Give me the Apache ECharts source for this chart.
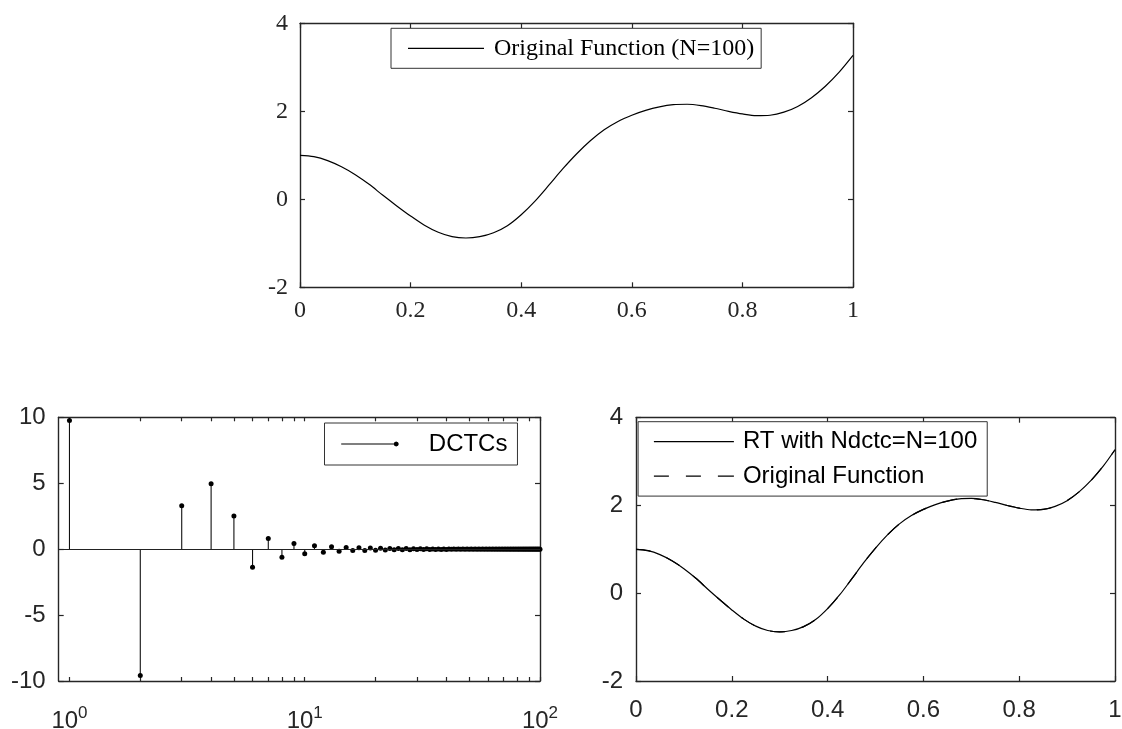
<!DOCTYPE html>
<html><head><meta charset="utf-8">
<script src="https://cdn.jsdelivr.net/npm/echarts@6/dist/echarts.min.js"></script>
<style>html,body{margin:0;padding:0;background:#fff}#c{width:1122px;height:729px}</style>
</head><body><div id="c"></div><script>
// ---- data ----
const fnX = [0,0.025,0.05,0.075,0.1,0.125,0.15,0.175,0.2,0.225,0.25,0.275,0.3,0.325,0.35,0.375,0.4,0.425,0.45,0.475,0.5,
             0.525,0.55,0.575,0.6,0.625,0.65,0.675,0.7,0.725,0.75,0.775,0.8,0.825,0.85,0.875,0.9,0.925,0.95,0.975,1];
const fnY = [1.00,0.97,0.88,0.74,0.56,0.34,0.09,-0.15,-0.38,-0.59,-0.75,-0.85,-0.88,-0.85,-0.76,-0.60,-0.35,-0.04,0.32,0.69,1.03,
             1.33,1.58,1.77,1.91,2.02,2.10,2.15,2.16,2.13,2.07,2.00,1.94,1.90,1.91,1.98,2.11,2.31,2.57,2.89,3.27];
const rtY = [1.00,0.97,0.88,0.74,0.56,0.34,0.09,-0.15,-0.38,-0.59,-0.75,-0.85,-0.88,-0.85,-0.76,-0.60,-0.35,-0.04,0.32,0.69,1.03,
             1.33,1.58,1.77,1.91,2.02,2.10,2.15,2.16,2.13,2.07,2.00,1.94,1.90,1.91,1.98,2.11,2.31,2.57,2.89,3.27];
const dctValues = [9.75,-9.59,3.29,4.96,2.51,-1.37,0.81,-0.62,0.43,-0.35,
                   0.25,-0.23,0.18,-0.16,0.13,-0.11,0.10,-0.10,0.08,-0.08,
                   0.07,-0.06,0.05,-0.05,0.05,-0.04,0.04,-0.04,0.03,-0.03,
                   0.03,-0.03,0.03,-0.02,0.02,-0.02,0.02,-0.02,0.02,-0.02,
                   0.02,-0.01,0.01,-0.01,0.01,-0.01,0.01,-0.01,0.01,-0.01,
                   0.01,-0.01,0.01,-0.01,0.01,-0.01,0.01,-0.01,0.01,-0.01,
                   0.01,-0.01,0.01,-0.01,0.01,-0.01,0.01,-0.01,0.01,-0.01,
                   0.01,-0.01,0.01,-0.01,0.01,-0.01,0.01,-0.01,0.01,-0.01,
                   0.01,-0.01,0.01,-0.01,0.01,-0.01,0.01,-0.01,0.01,-0.01,
                   0.01,-0.01,0.01,-0.01,0.01,-0.01,0.01,-0.01,0.01,-0.01];
const dctIndex = dctValues.map((v, i) => i + 1);
const logMajorTicks = [1, 10, 100];
const logAllTicks = [1,2,3,4,5,6,7,8,9,10,20,30,40,50,60,70,80,90,100];

const names = {
  top: 'Original Function (N=100)',
  stem: 'DCTCs',
  rt: 'RT with Ndctc=N=100',
  orig: 'Original Function'
};

// ---- styling ----
const AX = '#262626';
const SERIF = '"Liberation Serif","Times New Roman",serif';
const SANS = '"Liberation Sans",Arial,sans-serif';

function xAx(grid, pos, font, extra) {
  return Object.assign({
    gridIndex: grid, position: pos, type: 'value',
    axisLine: {show: true, onZero: false, lineStyle: {color: AX, width: 1.4}},
    axisTick: {show: true, inside: true, length: 5, lineStyle: {color: AX, width: 1.2}},
    axisLabel: {show: pos === 'bottom', color: AX, fontFamily: font, fontSize: 24, margin: 10},
    splitLine: {show: false}
  }, extra);
}
function yAx(grid, pos, font, extra) {
  return Object.assign({
    gridIndex: grid, position: pos, type: 'value',
    axisLine: {show: true, onZero: false, lineStyle: {color: AX, width: 1.4}},
    axisTick: {show: true, inside: true, length: 5, lineStyle: {color: AX, width: 1.2}},
    axisLabel: {show: pos === 'left', color: AX, fontFamily: font, fontSize: 24, margin: 12},
    splitLine: {show: false}
  }, extra);
}

const logLabel = {
  customValues: logMajorTicks,
  formatter: v => '{b|10}{s|' + Math.round(Math.log10(v)) + '}',
  margin: 24,
  rich: {
    b: {fontFamily: SANS, fontSize: 24, color: AX, lineHeight: 28, verticalAlign: 'bottom'},
    s: {fontFamily: SANS, fontSize: 17, color: AX, lineHeight: 17, verticalAlign: 'top'}
  }
};

const solidIcon = (w) => 'path://M0,0H' + w + 'V1.2H0Z';
const dashIcon = 'path://M0,0H15V1.2H0Z M32,0H47V1.2H32Z M64,0H80V1.2H64Z';
const stemIcon = 'path://M0,3.4L55,3.4L55,4.6L0,4.6Z M55,1.4L56.8,2.2L57.6,4L56.8,5.8L55,6.6L53.2,5.8L52.4,4L53.2,2.2Z';

const fnData = fnX.map((x, i) => [x, fnY[i]]);
const rtData = fnX.map((x, i) => [x, rtY[i]]);
const stemData = dctIndex.map((k, i) => [k, dctValues[i]]);

const option = {
  animation: false,
  backgroundColor: '#fff',
  grid: [
    {left: 300, top: 23.3, width: 553, height: 264, containLabel: false, outerBoundsMode: 'none'},
    {left: 58.7, top: 417.3, width: 481.3, height: 263.7, containLabel: false, outerBoundsMode: 'none'},
    {left: 636, top: 417.7, width: 479, height: 263.3, containLabel: false, outerBoundsMode: 'none'}
  ],
  xAxis: [
    xAx(0, 'bottom', SERIF, {min: 0, max: 1, interval: 0.2, axisLabel: {show: true, color: AX, fontFamily: SERIF, fontSize: 24, margin: 11}}),
    xAx(0, 'top', SERIF, {min: 0, max: 1, interval: 0.2}),
    xAx(1, 'bottom', SANS, {type: 'log', logBase: 10, min: 0.9, max: 100,
      axisTick: {show: true, inside: true, length: 4, customValues: logAllTicks, lineStyle: {color: AX, width: 1.2}},
      axisLabel: Object.assign({show: true}, logLabel)}),
    xAx(1, 'top', SANS, {type: 'log', logBase: 10, min: 0.9, max: 100,
      axisTick: {show: true, inside: true, length: 4, customValues: logAllTicks, lineStyle: {color: AX, width: 1.2}},
      axisLabel: {show: false}}),
    xAx(2, 'bottom', SANS, {min: 0, max: 1, interval: 0.2, axisLabel: {show: true, color: AX, fontFamily: SANS, fontSize: 24, margin: 17}}),
    xAx(2, 'top', SANS, {min: 0, max: 1, interval: 0.2})
  ],
  yAxis: [
    yAx(0, 'left', SERIF, {min: -2, max: 4, interval: 2}),
    yAx(0, 'right', SERIF, {min: -2, max: 4, interval: 2}),
    yAx(1, 'left', SANS, {min: -10, max: 10, interval: 5, axisLabel: {show: true, color: AX, fontFamily: SANS, fontSize: 24, margin: 13}}),
    yAx(1, 'right', SANS, {min: -10, max: 10, interval: 5}),
    yAx(2, 'left', SANS, {min: -2, max: 4, interval: 2, axisLabel: {show: true, color: AX, fontFamily: SANS, fontSize: 24, margin: 13}}),
    yAx(2, 'right', SANS, {min: -2, max: 4, interval: 2})
  ],
  legend: [
    {
      data: [{name: names.top, icon: solidIcon(76)}], left: 391, top: 28.3, orient: 'horizontal',
      padding: [8, 7, 8, 17], itemWidth: 76, itemHeight: 1.2, selectedMode: false,
      borderColor: '#333', borderWidth: 1, backgroundColor: '#fff',
      textStyle: {fontFamily: SERIF, fontSize: 24, lineHeight: 24, color: '#000', padding: [0, 0, 0, 5]}
    },
    {
      data: [{name: names.stem, icon: stemIcon}],
      left: 324.5, top: 423, orient: 'horizontal',
      padding: [9, 10, 9, 16.7], itemWidth: 57.6, itemHeight: 5.2, selectedMode: false,
      borderColor: '#333', borderWidth: 1, backgroundColor: '#fff',
      textStyle: {fontFamily: SANS, fontSize: 24, lineHeight: 24, color: '#000', padding: [0, 0, 0, 25]}
    },
    {
      data: [{name: names.rt, icon: solidIcon(80)}, {name: names.orig, icon: dashIcon}],
      left: 638.1, top: 421.7, orient: 'vertical',
      padding: [8, 10, 8, 15.8], itemWidth: 80, itemHeight: 1.2, itemGap: 10.4, selectedMode: false,
      borderColor: '#333', borderWidth: 1, backgroundColor: '#fff',
      textStyle: {fontFamily: SANS, fontSize: 24, lineHeight: 24, color: '#000', padding: [0, 0, 0, 4]}
    }
  ],
  series: [
    {
      name: names.top, type: 'line', xAxisIndex: 0, yAxisIndex: 0,
      data: fnData, smooth: 0.3, symbol: 'none', silent: true,
      lineStyle: {color: '#000', width: 1.2}, itemStyle: {color: '#000'}
    },
    {
      name: names.stem, type: 'custom', xAxisIndex: 2, yAxisIndex: 2,
      data: stemData, silent: true, itemStyle: {color: '#000'},
      renderItem: (params, api) => {
        const x = api.value(0), y = api.value(1);
        const p0 = api.coord([x, 0]);
        const p1 = api.coord([x, y]);
        return {type: 'group', children: [
          {type: 'line', shape: {x1: p0[0], y1: p0[1], x2: p1[0], y2: p1[1]}, style: {stroke: '#111', lineWidth: 1.1}},
          {type: 'circle', shape: {cx: p1[0], cy: p1[1], r: 2.5}, style: {fill: '#000'}}
        ]};
      },
      markLine: {
        silent: true, symbol: ['none', 'none'], label: {show: false},
        lineStyle: {color: '#222', width: 1.1, type: 'solid'},
        data: [{yAxis: 0}]
      }
    },
    {
      name: names.rt, type: 'line', xAxisIndex: 4, yAxisIndex: 4,
      data: rtData, smooth: 0.3, symbol: 'none', silent: true,
      lineStyle: {color: '#000', width: 1.2}, itemStyle: {color: '#000'}
    },
    {
      name: names.orig, type: 'line', xAxisIndex: 4, yAxisIndex: 4,
      data: fnData, smooth: 0.3, symbol: 'none', silent: true,
      lineStyle: {color: '#000', width: 1.2, type: [15, 17]}, itemStyle: {color: '#000'}
    }
  ]
};

const chart = echarts.init(document.getElementById('c'), null, {renderer: 'canvas'});
chart.setOption(option);
</script></body></html>
